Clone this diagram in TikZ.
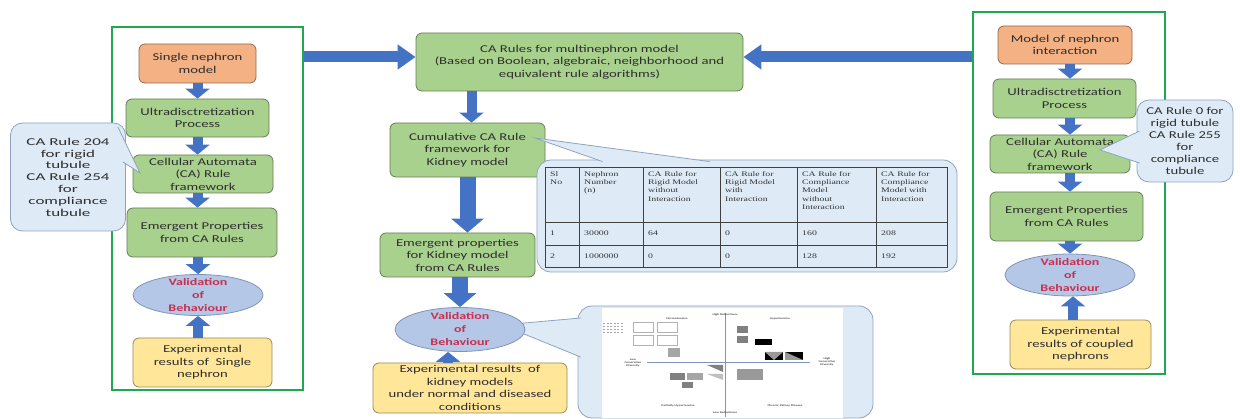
\documentclass[tikz,border=0pt]{standalone}
\usepackage{fontspec}
\setmainfont{Carlito}[FakeStretch=1.4]
\newfontfamily\largef{Carlito}[FakeStretch=1.62]
\newfontfamily\tabfont{Liberation Serif}[FakeStretch=1.4]
\usepackage{tikz}
\usetikzlibrary{arrows.meta,positioning,calc,shapes.geometric}
\definecolor{vertF}{HTML}{A9D18E}
\definecolor{saumon}{HTML}{F4B183}
\definecolor{jaune}{HTML}{FFE699}
\definecolor{ellF}{HTML}{B4C7E7}
\definecolor{ellB}{HTML}{7F95B8}
\definecolor{bulF}{HTML}{DEEBF7}
\definecolor{bulB}{HTML}{8FA3BF}
\definecolor{fleche}{HTML}{4472C4}
\definecolor{cadreV}{HTML}{1DA851}
\definecolor{rouge}{HTML}{C8304F}
\definecolor{texte}{HTML}{2E2E2E}
\tikzset{
  bloc/.style={rectangle, rounded corners=6pt, draw=#1!60!black, line width=0.8pt, fill=#1,
               align=center, text=texte, inner xsep=3pt, inner ysep=0pt,
               font=\fontsize{10.5}{12.5}\selectfont},
  valid/.style={ellipse, draw=ellB, line width=0.8pt, fill=ellF, inner sep=0pt},
  vtxt/.style={align=center, text=rouge, inner sep=0pt, font=\fontsize{10}{13}\selectfont\bfseries},
  bulle/.style={rectangle, rounded corners=12pt, draw=bulB, line width=0.8pt, fill=bulF,
                align=center, text=texte, inner sep=0pt, font=\fontsize{10.5}{12}\selectfont},
  cadre/.style={rectangle, draw=cadreV, line width=2.6pt},
  arr/.style={draw=fleche, line width=10pt, -{Triangle[width=24pt,length=10pt]}},
  gros/.style={draw=fleche, line width=16pt, -{Triangle[width=32pt,length=14pt]}},
  horiz/.style={draw=fleche, line width=11pt, -{Triangle[width=24pt,length=18pt]}},
  tab/.style={draw=black!75, line width=0.9pt},
  cellh/.style={anchor=north west, align=left, inner sep=0pt, text=black!80,
                font=\tabfont\fontsize{7}{8.3}\selectfont},
  cellr/.style={anchor=west, inner sep=0pt, text=black!80, font=\tabfont\fontsize{7}{8.3}\selectfont},
  mini/.style={align=center, inner sep=0pt, text=black!70, font=\fontsize{2.6}{3}\selectfont\bfseries},
}

\begin{document}
\begin{tikzpicture}[x=1pt, y=-1pt]
    \useasboundingbox (0,0) rectangle (1240,419);
    % panels
    \node[cadre, minimum width=191pt, minimum height=363pt] (lframe) at (207.5,208.5) {};
    \node[cadre, minimum width=192pt, minimum height=362pt] (rframe) at (1069,193) {};

    % left: single nephron
    \node[bloc=saumon, minimum width=117pt, minimum height=39pt] (sn) at (197.5,63.5) {Single nephron\\model};
    \node[bloc=vertF, minimum width=143pt, minimum height=38pt] (ul) at (197.5,118) {Ultradisctretization\\Process};
    \node[bloc=vertF, minimum width=140pt, minimum height=38pt] (ca) at (203,174) {Cellular Automata\\(CA) Rule\\framework};
    \node[bloc=vertF, minimum width=150pt, minimum height=49pt] (em) at (202,232.5) {Emergent Properties\\from CA Rules};
    \node[valid, minimum width=130pt, minimum height=41pt, label={[vtxt]center:{Validation\\of\\Behaviour}}] (va) at (198,295) {};
    \node[bloc=jaune, minimum width=139pt, minimum height=49pt] (ex) at (202.5,362.5) {Experimental\\results of~~Single\\nephron};

    % centre: kidney model
    \node[bloc=vertF, minimum width=327pt, minimum height=58pt] (top) at (579.5,62) {CA Rules for multinephron model\\(Based on Boolean, algebraic, neighborhood and\\equivalent rule algorithms)};
    \node[bloc=vertF, minimum width=155pt, minimum height=54pt] (cum) at (467.5,150) {Cumulative CA Rule\\framework for\\Kidney model};
    \node[bloc=vertF, minimum width=155pt, minimum height=44pt] (emk) at (457.5,255) {Emergent properties\\for Kidney model\\from CA Rules};
    \node[bloc=jaune, minimum width=194pt, minimum height=50pt] (exk) at (470,388) {Experimental results~~of\\kidney models\\under normal and diseased\\conditions};

    % right: coupled nephrons
    \node[bloc=saumon, minimum width=134pt, minimum height=38pt] (mn) at (1065,45) {Model of nephron\\interaction};
    \node[bloc=vertF, minimum width=143pt, minimum height=39pt] (ur) at (1064.5,98.5) {Ultradisctretization\\Process};
    \node[bloc=vertF, minimum width=140pt, minimum height=38pt] (car) at (1060,154) {Cellular Automata\\(CA) Rule\\framework};
    \node[bloc=vertF, minimum width=153pt, minimum height=49pt] (emr) at (1066.5,216.5) {Emergent Properties\\from CA Rules};
    \node[valid, minimum width=130pt, minimum height=42pt, label={[vtxt]center:{Validation\\of\\Behaviour}}] (var) at (1070,275) {};
    \node[bloc=jaune, minimum width=141pt, minimum height=49pt] (exr) at (1080.5,344.5) {Experimental\\results of coupled\\nephrons};

    % arrows
    \draw[arr] (sn.south) -- (sn.south |- ul.north);
    \draw[arr] (ul.south) -- (ul.south |- ca.north);
    \draw[arr] (ul.south |- ca.south) -- (ul.south |- em.north);
    \draw[arr] (va.north |- em.south) -- (va.north);
    \draw[arr] (va.south |- ex.north) -- (va.south);
    \draw[horiz] ($(lframe.east |- top.west)+(0,-5)$) -- ($(top.west)+(0,-5)$);
    \draw[horiz] ($(rframe.west |- top.east)+(0,-5)$) -- ($(top.east)+(0,-5)$);
    \draw[arr] ($(cum.north |- top.south)+(4,0)$) -- ($(cum.north)+(4,0)$);
    \draw[gros] (cum.south) -- (cum.south |- emk.north);
    \draw[arr] (var.north |- mn.south) -- (var.north |- ur.north);
    \draw[arr] (var.north |- ur.south) -- (var.north |- car.north);
    \draw[arr] (var.north |- car.south) -- (var.north |- emr.north);
    \draw[arr] (var.north |- emr.south) -- (var.north);
    \draw[arr] ($(var.south |- exr.north)+(3,0)$) -- ($(var.south)+(3,0)$);

    % callouts
    \node[bulle, minimum width=115pt, minimum height=108pt, font=\largef\fontsize{10.5}{11.8}\selectfont] (lc) at (68,177) {CA Rule 204\\for rigid\\tubule\\CA Rule 254\\for\\compliance\\tubule};
    \coordinate (lcp) at (140,173);
    \fill[bulF] ($(lc.east)+(-8,-50)$) -- (lcp) -- ($(lc.east)+(-3,-15)$) -- cycle;
    \draw[bulB, line width=0.8pt] ($(lc.east)+(-8,-50)$) -- (lcp) -- ($(lc.east)+(-3,-15)$);

    \node[bulle, minimum width=96pt, minimum height=82pt] (rc) at (1185,141) {CA Rule 0 for\\rigid tubule\\CA Rule 255\\for\\compliance\\tubule};
    \coordinate (rcp) at (1100,150);
    \fill[bulF] ($(rc.west)+(3,-10)$) -- (rcp) -- ($(rc.west)+(3,22)$) -- cycle;
    \draw[bulB, line width=0.8pt] ($(rc.west)+(3,-10)$) -- (rcp) -- ($(rc.west)+(3,22)$);

    % table of rules
    \node[bulle, rounded corners=14pt, minimum width=420pt, minimum height=112pt] (tc) at (747,216) {};
    \coordinate (tcp) at (535,138);
    \fill[bulF] ($(tc.north west)+(66,2)$) -- (tcp) -- ($(tc.north west)+(173,2)$) -- cycle;
    \draw[bulB, line width=0.8pt] ($(tc.north west)+(66,2)$) -- (tcp) -- ($(tc.north west)+(173,2)$);
    \draw[tab] (545,167) rectangle (947,267);
    \foreach \x in {579,643,720,797,876}
      \draw[tab] (\x,167) -- (\x,267);
    \foreach \y in {222,245}
      \draw[tab] (545,\y) -- (947,\y);
    \foreach \x/\t [count=\i] in {545/{Sl\\No}, 579/{Nephron\\Number\\(n)},
        643/{CA Rule for\\Rigid Model\\without\\Interaction}, 720/{CA Rule for\\Rigid Model\\with\\Interaction},
        797/{CA Rule for\\Compliance\\Model\\without\\Interaction}, 876/{CA Rule for\\Compliance\\Model with\\Interaction}}
      \node[cellh] (h\i) at (\x+5,171) {\t};
    \foreach \x/\a/\b [count=\i] in {545/1/2, 579/30000/1000000, 643/64/0, 720/0/0, 797/160/128, 876/208/192} {
      \node[cellr] (ra\i) at (\x+5,233.5) {\a};
      \node[cellr] (rb\i) at (\x+5,256) {\b};
    }

    % quadrant picture
    \node[bulle, rounded corners=14pt, minimum width=295pt, minimum height=112pt] (ic) at (725.5,362) {};
    \coordinate (icp) at (502,325);
    \fill[bulF] ($(ic.west)+(3,-44)$) -- (icp) -- ($(ic.west)+(3,-5)$) -- cycle;
    \draw[bulB, line width=0.8pt] ($(ic.west)+(3,-44)$) -- (icp) -- ($(ic.west)+(3,-5)$);
    \node[fill=white, minimum width=241pt, minimum height=110pt, inner sep=0pt] (shot) at (722.5,363) {};
    \draw[ellB, line width=0.8pt] (647,362) -- (810,362);
    \draw[ellB, line width=0.8pt] (725,313) -- (725,417);
    \foreach \a/\b/\c/\d/\f in {737/326/748/333/gray, 737/336/748/343/gray, 755/339/772/345/black,
        765/352/783/360/black, 785/352/803/360/black, 668/348/680/357/gray!70, 670/373/685/380/gray,
        687/373/703/380/gray!70, 682/382/693/388/gray, 737/369/763/380/gray!80}
      \fill[\f] (\a,\b) rectangle (\c,\d);
    \fill[gray!80] (765,352) -- (774,360) -- (783,352) -- cycle;
    \fill[gray!80] (785,352) -- (803,360) -- (785,360) -- cycle;
    \fill[gray] (707,365) -- (723,365) -- (723,372) -- cycle;
    \fill[gray!50] (707,374) -- (723,374) -- (723,380) -- cycle;
    \foreach \a/\b in {633/322, 657/322, 633/335, 657/335}
      \draw[gray!60, line width=0.3pt] (\a,\b) rectangle (\a+20,\b+10);
    \foreach \y in {323,326,329,332}
      \draw[gray!70, line width=0.6pt, dash pattern=on 2pt off 1.5pt] (603,\y) -- (623,\y);
    \node[mini] (q1) at (725,315) {High Robustness};
    \node[mini] (q2) at (725,413) {Low Robustness};
    \node[mini] (q3) at (677,319) {Normotensive};
    \node[mini] (q4) at (780,319) {Hypertensive};
    \node[mini] (q5) at (678,406) {Partially Hypertensive};
    \node[mini] (q6) at (785,406) {Chronic Kidney Disease};
    \node[mini] (q7) at (633,363) {Low\\Generative\\Diversity};
    \node[mini] (q8) at (827,362) {High\\Generative\\Diversity};

    \node[valid, minimum width=130pt, minimum height=44pt, label={[vtxt]center:{Validation\\of\\Behaviour}}] (vak) at (460,329.5) {};
    \draw[gros] (vak.north |- emk.south) -- (vak.north);
    \draw[arr] ($(vak.south |- exk.north)+(-12,0)$) -- ($(vak.south)+(-12,0)$);
\end{tikzpicture}
\end{document}
